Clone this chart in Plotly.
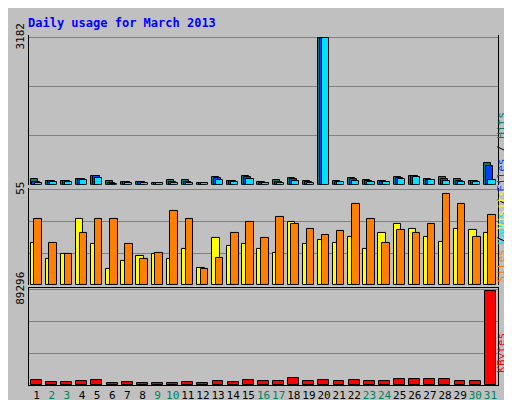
import plotly.graph_objects as go

days = list(range(1, 32))
weekend = {2, 3, 9, 10, 16, 17, 23, 24, 30, 31}
hits = [115, 90, 90, 130, 200, 90, 70, 65, 45, 110, 110, 45, 160, 90, 190, 70, 110, 150, 90, 3182, 80, 150, 110, 80, 160, 190, 120, 160, 130, 90, 475]
files = [60, 80, 80, 120, 180, 30, 50, 50, 35, 60, 60, 35, 140, 80, 170, 40, 60, 120, 60, 3182, 70, 130, 90, 70, 150, 180, 110, 130, 90, 80, 410]
pages = [40, 70, 70, 110, 140, 10, 40, 40, 35, 40, 40, 35, 110, 70, 130, 30, 40, 90, 40, 3182, 70, 90, 70, 60, 130, 160, 100, 90, 60, 70, 110]
visits = [24, 15, 18, 38, 23.5, 9, 14, 17, 18, 15, 21, 10, 27, 22.5, 23.5, 21, 18.5, 36.5, 23.5, 26, 24, 28, 21, 30, 35, 32.5, 28, 25, 32.5, 32, 30]
sites = [38, 24, 18, 30, 38, 38, 23.5, 15, 18.5, 43, 38, 9, 15.5, 30, 36.5, 27, 39.5, 35.5, 32.5, 29, 31, 47, 38, 24, 32, 30, 35.5, 52.5, 47, 28, 40.5]
kbytes = [4800, 2900, 2900, 3900, 4800, 1900, 2900, 1900, 1900, 1900, 2900, 1900, 3900, 2900, 4800, 3900, 3900, 6700, 3900, 4800, 3900, 4800, 3900, 3900, 5800, 5800, 5800, 5800, 3900, 3900, 88400]
max_hits, max_sites, max_kb = 3182, 55, 89296

fig = go.Figure()
line = dict(color="black", width=1)
def bar(y, color, off, w, ax):
    fig.add_trace(go.Bar(x=days, y=y, marker=dict(color=color, line=line), offset=off, width=w,
                         xaxis="x", yaxis=ax, showlegend=False))
bar(hits, "#00805c", -0.4, 0.47, "y")
bar(files, "#0040ff", -0.27, 0.47, "y")
bar(pages, "#00e0ff", -0.13, 0.47, "y")
bar(visits, "#ffff00", -0.4, 0.5, "y2")
bar(sites, "#ff8000", -0.15, 0.5, "y2")
bar(kbytes, "#ff0000", -0.37, 0.72, "y3")

mono = "DejaVu Sans Mono"
ticktext = [f"<span style='color:#00805c'>{d}</span>" if d in weekend else str(d) for d in days]
def yax(m, dom):
    return dict(domain=dom, range=[0, m * 1.02], tickvals=[m / 3, 2 * m / 3, m], ticktext=["", "", str(m)],
                tickangle=-90, showgrid=True, gridcolor="#808080", gridwidth=1, showline=True, mirror=True,
                linecolor="black", linewidth=1, ticks="", zeroline=False, anchor="x", automargin=False,
                fixedrange=True, tickfont=dict(family=mono, size=11, color="black"))
fig.update_layout(
    width=512, height=400, margin=dict(l=21, r=22, t=27, b=23),
    paper_bgcolor="#c0c0c0", plot_bgcolor="#c0c0c0", barmode="overlay", bargap=0,
    xaxis=dict(range=[0.5, 31.5], tickvals=days, ticktext=ticktext, showgrid=False, ticks="", tickangle=0,
               showline=True, mirror=True, linecolor="black", automargin=False,
               tickfont=dict(family=mono, size=11, color="black"), anchor="y3", fixedrange=True),
    yaxis=yax(max_hits, [0.572, 1]),
    yaxis2=yax(max_sites, [0.286, 0.563]),
    yaxis3=yax(max_kb, [0, 0.277]),
    annotations=[
        dict(text="<b>Daily usage for March 2013</b>", x=-0.006, y=1.034, xref="paper", yref="paper",
             xanchor="left", yanchor="middle", showarrow=False, font=dict(family=mono, size=12, color="#0000ff")),
        dict(text="<span style='color:#00e0ff'>Pages</span> / <span style='color:#0040ff'>Files</span> / <span style='color:#00805c'>Hits</span>",
             x=1.025, y=0.786, xref="paper", yref="paper", textangle=-90, showarrow=False, font=dict(family=mono, size=11, color="black")),
        dict(text="<span style='color:#ff8000'>Sites</span> / <span style='color:#ffff00'>Visits</span>",
             x=1.025, y=0.425, xref="paper", yref="paper", textangle=-90, showarrow=False, font=dict(family=mono, size=11, color="black")),
        dict(text="KBytes", x=1.025, y=0.03, xref="paper", yref="paper", textangle=-90, showarrow=False,
             yanchor="bottom", font=dict(family=mono, size=11, color="#ff0000")),
    ],
)
fig.write_html("out.html")
